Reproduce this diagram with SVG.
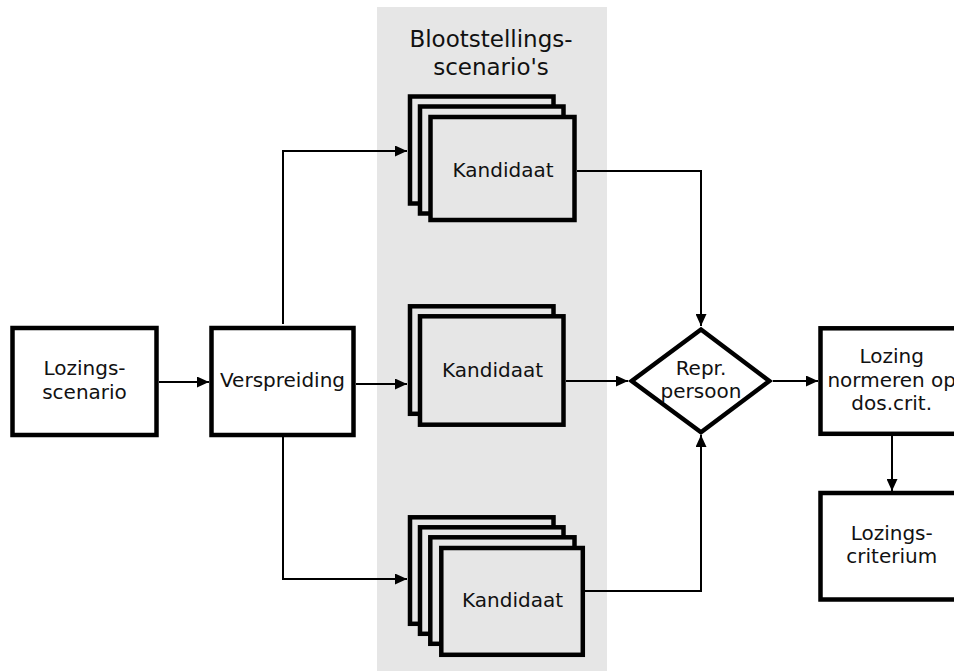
<svg xmlns="http://www.w3.org/2000/svg" width="954" height="671" viewBox="0 0 954 671">
<defs>
<marker id="ah" markerWidth="12" markerHeight="11" refX="12" refY="5.5" orient="auto" markerUnits="userSpaceOnUse">
<path d="M0,0 L12,5.5 L0,11 Z" fill="#000"/>
</marker>
<style>
.box{fill:#fff;stroke:#000;stroke-width:4.5}
.card{fill:#e6e6e6;stroke:#000;stroke-width:4.5}
.t{font-family:"DejaVu Sans","Verdana",sans-serif;font-size:20px;fill:#111;text-anchor:middle}
.title{font-size:23px}
.c{fill:none;stroke:#000;stroke-width:2;marker-end:url(#ah)}
</style>
</defs>
<rect id="group-bg" x="377" y="7" width="230" height="670" fill="#e6e6e6"/>
<g id="title">
<text class="t title" x="491" y="47">Blootstellings-</text>
<text class="t title" x="491" y="75">scenario's</text>
</g>
<g id="connectors">
<path class="c" d="M159,382 H209"/>
<path class="c" d="M283,324 V151 H407"/>
<path class="c" d="M356,384 H407"/>
<path class="c" d="M283,437 V579 H407"/>
<path class="c" d="M577,171 H701 V326"/>
<path class="c" d="M566,381 H628"/>
<path class="c" d="M585,591 H701 V435"/>
<path class="c" d="M773,381 H818"/>
<path class="c" d="M892,436 V491"/>
</g>
<g id="lozingsscenario">
<rect class="box" x="12.5" y="328" width="144" height="107"/>
<text class="t" x="84.5" y="375">Lozings-</text>
<text class="t" x="84.5" y="399">scenario</text>
</g>
<g id="verspreiding">
<rect class="box" x="211.5" y="328" width="142" height="107"/>
<text class="t" x="282.5" y="387">Verspreiding</text>
</g>
<g id="kandidaat-top">
<rect class="card" x="410" y="96.5" width="143.5" height="107"/>
<rect class="card" x="420" y="106.5" width="143.5" height="107"/>
<rect class="card" x="430.5" y="117" width="144" height="103"/>
<text class="t" x="503" y="177">Kandidaat</text>
</g>
<g id="kandidaat-mid">
<rect class="card" x="410" y="306.3" width="143.5" height="107.5"/>
<rect class="card" x="420" y="316.3" width="143.5" height="108.4"/>
<text class="t" x="492.5" y="377">Kandidaat</text>
</g>
<g id="kandidaat-bottom">
<rect class="card" x="410" y="517.3" width="143.5" height="106.5"/>
<rect class="card" x="420" y="527.3" width="143.5" height="106.5"/>
<rect class="card" x="430.3" y="537.3" width="144.2" height="106.5"/>
<rect class="card" x="441.3" y="548" width="141.5" height="106.8"/>
<text class="t" x="512.5" y="607">Kandidaat</text>
</g>
<g id="repr-persoon">
<polygon class="box" points="701,329.5 769.3,381 701,432.2 631.7,381" stroke-linejoin="miter"/>
<text class="t" x="701" y="375">Repr.</text>
<text class="t" x="701" y="398">persoon</text>
</g>
<g id="lozing-normeren">
<rect class="box" x="820.5" y="328.3" width="146" height="105.5"/>
<text class="t" x="891.7" y="363">Lozing</text>
<text class="t" x="891.7" y="387">normeren op</text>
<text class="t" x="891.7" y="410">dos.crit.</text>
</g>
<g id="lozingscriterium">
<rect class="box" x="820.5" y="493" width="146" height="106.5"/>
<text class="t" x="891.7" y="540">Lozings-</text>
<text class="t" x="891.7" y="563">criterium</text>
</g>
</svg>
